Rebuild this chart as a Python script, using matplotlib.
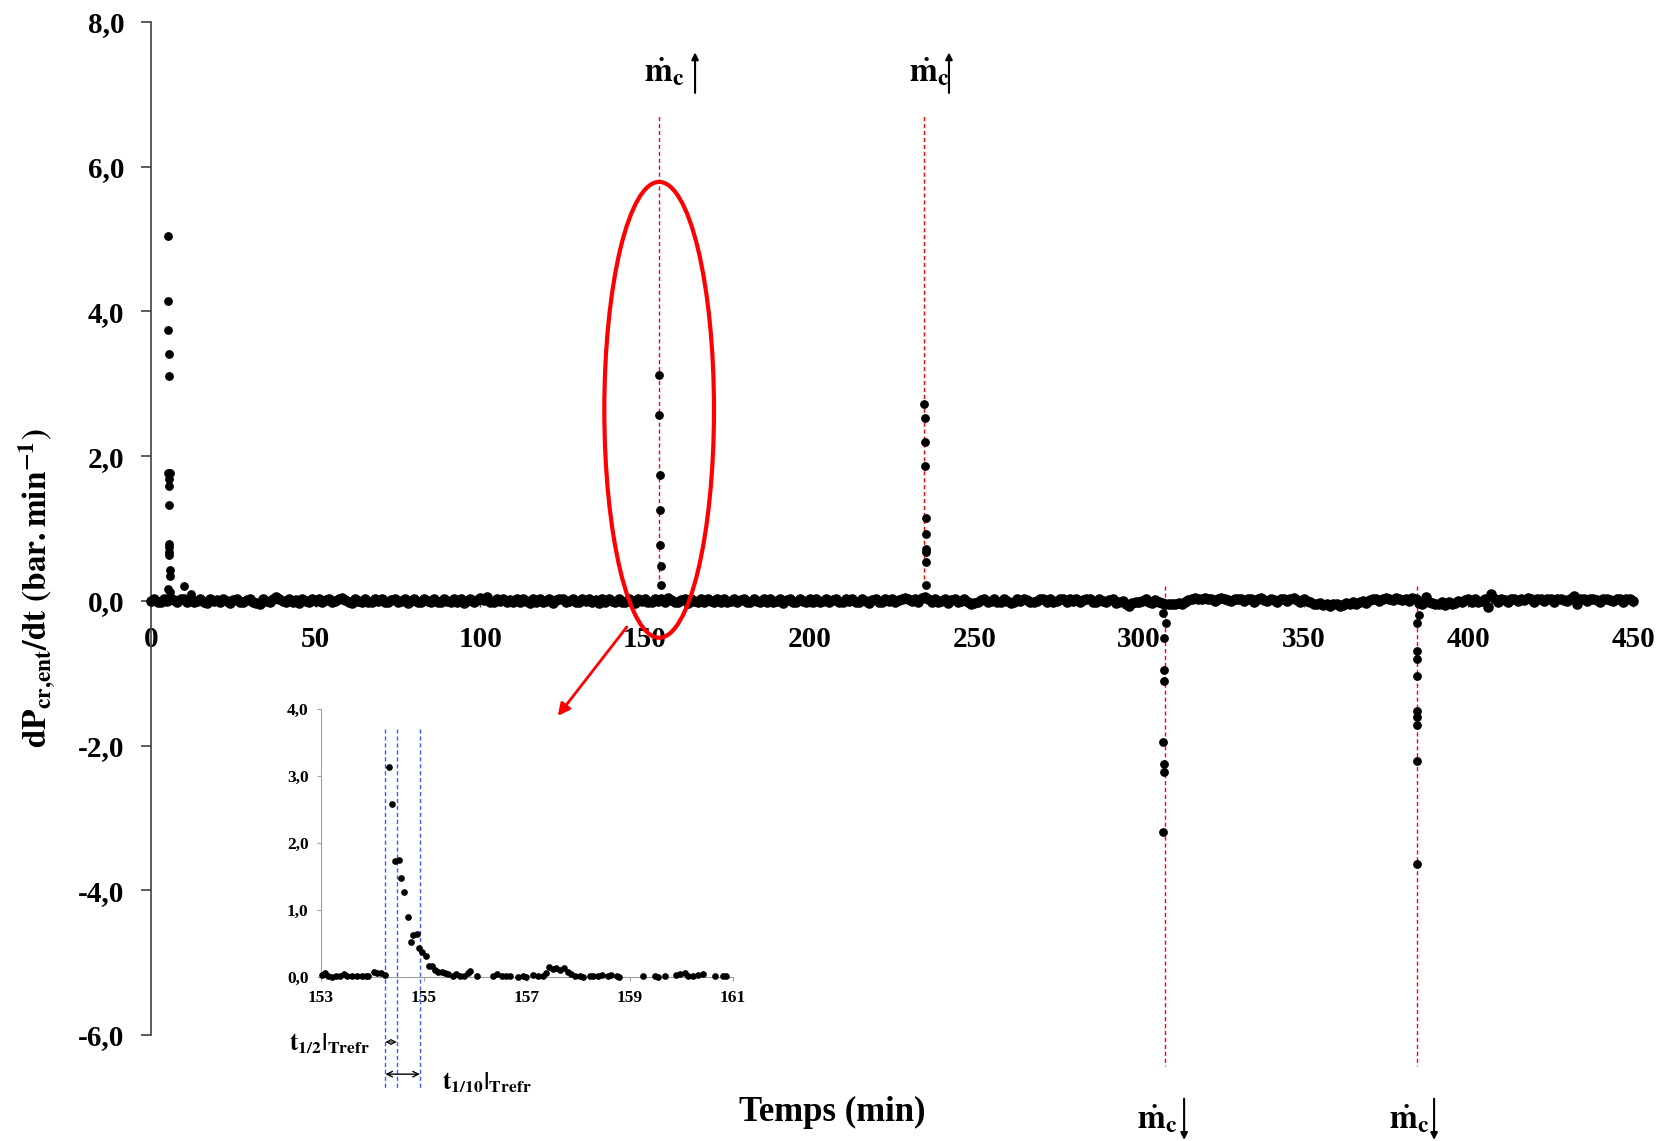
import matplotlib.pyplot as plt
from matplotlib.patches import Ellipse
import numpy as np

plt.rcParams['font.family'] = ['Liberation Serif', 'DejaVu Serif']
plt.rcParams['font.weight'] = 'bold'
plt.rcParams['mathtext.fontset'] = 'stix'

# baseline, one value per minute (t = 0..450), in hundredths of bar/min
base_000 = [0,2,-1,-2,2,0,3,1,-2,2, 3,-1,2,-2,0,2,-1,-3,2,0, 1,-2,2,0,-3,1,2,-1,-2,1,
            2,-1,-3,-4,2,0,-2,3,5,2, 0,-2,2,-1,1,-3,2,0,-2,2]
base_050 = [0,2,-2,1,3,-2,0,2,4,1, -1,-3,2,0,-2,2,-1,-2,3,0, 2,-1,-2,1,3,-2,0,2,-3,0,
            2,-1,-2,2,0,-2,3,-1,-2,2, 0,-2,2,-1,2,-3,0,2,-2,1]
base_100 = [4,1,5,-1,-2,2,0,3,-2,1, -1,2,-2,3,0,-3,2,-1,2,-2, 0,2,-3,1,2,3,-2,0,2,-1,
            -2,2,0,3,-2,1,-3,2,-1,2, 0,-2,3,-1,-2,2,0,-3,2,0]
base_150 = [2,-1,-2,3,0,2,-2,4,1,-1, -2,1,3,-3,2,0,-2,2,-1,3, 0,-2,2,-1,3,-2,0,2,-2,1,
            2,-1,-2,3,0,-2,2,-1,3,-2, 0,2,-3,1,2,-1,-2,2,0,-2]
base_200 = [2,-1,3,-2,0,2,-2,1,2,-1, -2,2,0,3,-1,-2,2,0,-3,1, 2,-1,-2,2,0,3,-2,1,2,4,
            2,0,3,-2,4,6,2,-1,3,-2, 0,2,-3,1,2,-2,0,3,-2,-4]
base_250 = [-3,-2,1,2,-2,0,3,-1,-2,2, 0,-3,-2,2,0,3,1,-1,-2,0, 2,3,-1,2,-2,0,2,3,-1,2,
            0,2,-2,1,2,3,-1,-2,2,0, -2,1,2,-3,-2,0,-4,-7,-3,-1]
base_300 = [-2,0,2,-2,-3,1,-2,-3,-4,-5, -4,-5,-3,-4,-2,1,3,4,2,3, 4,2,3,0,2,4,3,1,0,3,
            2,3,0,2,3,-1,2,4,1,0, 3,1,-1,2,3,0,2,4,1,-1]
base_350 = [2,0,-2,-4,-5,-3,-6,-4,-7,-4, -5,-7,-6,-3,-5,-2,-4,-1,0,-3, 1,2,3,0,2,4,3,1,4,2,
            1,3,0,4,2,-3,-4,5,-2,-3, -5,-4,-2,-6,-1,-4,-3,0,-2,1]
base_400 = [2,-1,3,-2,0,2,-8,9,2,-1, 3,1,-1,3,2,0,3,1,4,2, -1,3,2,0,2,3,-1,2,3,1,
            0,3,7,-5,2,3,0,2,3,1, -1,2,3,1,0,3,2,-1,2,3, 0]

# transients (min, bar/min)
spk1_t = [5.2, 5.25, 5.3, 5.35, 5.4, 5.2, 5.8, 5.5, 5.5, 5.55, 5.6, 5.5, 5.6, 5.6, 5.7, 5.7, 5.2, 5.9, 10.0, 12.1]
spk1_y = [5.04, 4.15, 3.75, 3.41, 3.11, 1.77, 1.77, 1.69, 1.59, 1.32, 0.79, 0.74, 0.68, 0.64, 0.42, 0.34, 0.16, 0.12, 0.20, 0.10]
spk2_t = [154.3, 154.4, 154.5, 154.6, 154.7, 154.8, 155.0]
spk2_y = [3.12, 2.57, 1.74, 1.26, 0.77, 0.48, 0.22]
spk3_t = [234.8, 234.9, 235.0, 235.1, 235.2, 235.2, 235.3, 235.3, 235.3, 235.4]
spk3_y = [2.72, 2.53, 2.20, 1.86, 1.15, 0.92, 0.72, 0.68, 0.54, 0.22]
spk4_t = [307.4, 308.1, 307.6, 307.5, 307.5, 307.4, 307.5, 307.5, 307.2]
spk4_y = [-0.17, -0.30, -0.52, -0.96, -1.11, -1.95, -2.26, -2.37, -3.20]
spk5_t = [385.0, 384.5, 384.5, 384.5, 384.5, 384.4, 384.4, 384.4, 384.4, 384.4]
spk5_y = [-0.19, -0.30, -0.69, -0.81, -1.04, -1.52, -1.61, -1.72, -2.21, -3.64]

# inset: zoom on 153-161 min
ins_t = [153.01, 153.08, 153.14, 153.21, 153.29, 153.37, 153.45, 153.51, 153.60, 153.69,
         153.79, 153.87, 153.92, 154.02, 154.08, 154.16, 154.24,
         154.33, 154.38, 154.44, 154.51, 154.56, 154.62, 154.68, 154.74, 154.79, 154.86,
         154.91, 154.97, 155.03, 155.09, 155.15, 155.21, 155.28, 155.34,
         155.41, 155.47, 155.56, 155.63, 155.70, 155.77, 155.86, 155.90, 156.02,
         156.34, 156.42, 156.51, 156.60, 156.67, 156.83, 156.93, 156.99, 157.12, 157.22,
         157.31, 157.37, 157.43, 157.51, 157.57, 157.64, 157.72, 157.80, 157.86, 157.93,
         158.03, 158.09, 158.22, 158.28, 158.38, 158.45, 158.58, 158.64, 158.74, 158.79,
         159.25, 159.48, 159.55, 159.68, 159.90, 159.97, 160.06, 160.13, 160.23, 160.32,
         160.42, 160.65, 160.81, 160.87]
ins_y = [0.03, 0.06, 0.02, 0.00, 0.02, 0.02, 0.05, 0.01, 0.01, 0.01,
         0.01, 0.02, 0.01, 0.07, 0.06, 0.06, 0.03,
         3.13, 2.58, 1.73, 1.75, 1.48, 1.27, 0.89, 0.52, 0.63, 0.64,
         0.43, 0.37, 0.31, 0.17, 0.16, 0.10, 0.07, 0.07,
         0.06, 0.05, 0.02, 0.04, 0.02, 0.01, 0.06, 0.09, 0.02,
         0.01, 0.05, 0.02, 0.01, 0.01, 0.00, 0.01, 0.00, 0.03, 0.02,
         0.01, 0.06, 0.15, 0.12, 0.13, 0.11, 0.14, 0.08, 0.05, 0.02,
         0.01, 0.00, 0.01, 0.01, 0.02, 0.03, 0.02, 0.03, 0.01, 0.00,
         0.01, 0.01, 0.00, 0.01, 0.03, 0.05, 0.06, 0.02, 0.01, 0.03,
         0.05, 0.01, 0.02, 0.01]
t_half = [154.25, 154.47]
t_tenth = [154.25, 154.92]

step_up = [154.3, 234.7]
step_down = [308.0, 384.5]

base_y = np.array(base_000 + base_050 + base_100 + base_150 + base_200 +
                  base_250 + base_300 + base_350 + base_400) / 100.0
base_t = np.arange(len(base_y))

W, H = 1666, 1141
fig = plt.figure(figsize=(W / 100, H / 100), dpi=100)
ax = fig.add_axes([151 / W, 1 - 1035 / H, 1482 / W, 1013 / H])
ax.set_xlim(0, 450)
ax.set_ylim(-6, 8)

for s in step_up:
    ax.plot([s, s], [0.2, 6.7], color='red', lw=1, dashes=(3, 2), zorder=1)
for s in step_down:
    ax.plot([s, s], [0.2, -6.43], color='red', lw=1, dashes=(3, 2), zorder=1, clip_on=False)

ax.plot(base_t, base_y, 'o', color='black', ms=6.6, zorder=3, clip_on=False)
for tt, yy in [(spk1_t, spk1_y), (spk2_t, spk2_y), (spk3_t, spk3_y), (spk4_t, spk4_y), (spk5_t, spk5_y)]:
    ax.plot(tt, yy, 'o', color='black', ms=5.3, zorder=3)

ax.add_patch(Ellipse((154.3, 2.64), 33.3, 6.3, fill=False, ec='red', lw=3, zorder=4))
ax.annotate('', xy=(123, -1.62), xytext=(145, -0.33),
            arrowprops=dict(arrowstyle='-|>', color='red', lw=2, mutation_scale=18))

lab = r'$\mathbf{\dot{m}_c}$'
for s, ax_x in zip(step_up, [165.2, 242.3]):
    ax.text(s + 1.5, 7.31, lab, fontsize=24, ha='center', va='center')
    ax.annotate('', xy=(ax_x, 7.58), xytext=(ax_x, 7.02),
                arrowprops=dict(arrowstyle='-|>', color='black', lw=1.5, mutation_scale=10,
                                shrinkA=0, shrinkB=0))
for s, ax_x in zip(step_down, [313.7, 389.6]):
    ax.text(s - 2.5, -7.16, lab, fontsize=24, ha='center', va='center')
    ax.annotate('', xy=(ax_x, -7.45), xytext=(ax_x, -6.88),
                arrowprops=dict(arrowstyle='-|>', color='black', lw=1.5, mutation_scale=10,
                                shrinkA=0, shrinkB=0),
                annotation_clip=False)

ax.spines['top'].set_visible(False)
ax.spines['right'].set_visible(False)
ax.spines['bottom'].set_position(('data', 0))
for sp in ['left', 'bottom']:
    ax.spines[sp].set_color('#404040')
    ax.spines[sp].set_linewidth(1.2)
ax.set_yticks(np.arange(-6, 9, 2))
ax.set_yticklabels([('%.1f' % v).replace('.', ',') for v in np.arange(-6, 9, 2)])
ax.set_xticks(np.arange(0, 451, 50))
ax.tick_params(axis='y', direction='out', length=7, width=1.2, color='#404040', pad=12, labelsize=21)
ax.tick_params(axis='x', direction='out', length=4, width=1, color='#404040', pad=14, labelsize=21)
for lb in ax.get_xticklabels() + ax.get_yticklabels():
    lb.set_fontweight('bold')

fig.text(37 / W, 1 - 588 / H, r'$\mathbf{dP_{cr{,}ent}/dt\ (bar{.}min^{-1})}$', rotation=90,
         ha='center', va='center', fontsize=24)
fig.text(832 / W, 1 - 1112 / H, 'Temps (min)', ha='center', va='center', fontsize=25, fontweight='bold')

# inset
axi = fig.add_axes([321 / W, 1 - 977 / H, 412 / W, 268 / H])
axi.patch.set_alpha(0)
axi.set_xlim(153, 161)
axi.set_ylim(0, 4)
axi.plot(ins_t, ins_y, 'o', color='black', ms=3.8, clip_on=False, zorder=3)
for v in sorted(set(t_half + t_tenth)):
    axi.plot([v, v], [3.7, -1.69], color='#3a5cff', lw=1, dashes=(3, 2), clip_on=False)
axi.annotate('', xy=(t_half[0], -0.97), xytext=(t_half[1], -0.97),
             arrowprops=dict(arrowstyle='<->', color='black', lw=0.8, mutation_scale=8,
                             shrinkA=0, shrinkB=0), annotation_clip=False)
axi.annotate('', xy=(t_tenth[0], -1.45), xytext=(t_tenth[1], -1.45),
             arrowprops=dict(arrowstyle='<->', color='black', lw=1, mutation_scale=10,
                             shrinkA=0, shrinkB=0), annotation_clip=False)
axi.text(153.95, -0.99, r'$\mathbf{t_{1/2}|_{Trefr}}$', fontsize=18, ha='right', va='center')
axi.text(155.35, -1.58, r'$\mathbf{t_{1/10}|_{Trefr}}$', fontsize=18, ha='left', va='center')
axi.spines['top'].set_visible(False)
axi.spines['right'].set_visible(False)
for sp in ['left', 'bottom']:
    axi.spines[sp].set_color('#a0a0a0')
axi.set_xticks(np.arange(153, 162, 2))
axi.set_yticks(np.arange(0, 5, 1))
axi.set_yticklabels([('%.1f' % v).replace('.', ',') for v in np.arange(0, 5, 1)])
axi.tick_params(direction='out', length=3, color='#a0a0a0', labelsize=12.5, pad=6)
for lb in axi.get_xticklabels() + axi.get_yticklabels():
    lb.set_fontweight('bold')

fig.savefig('out.png', dpi=100)
